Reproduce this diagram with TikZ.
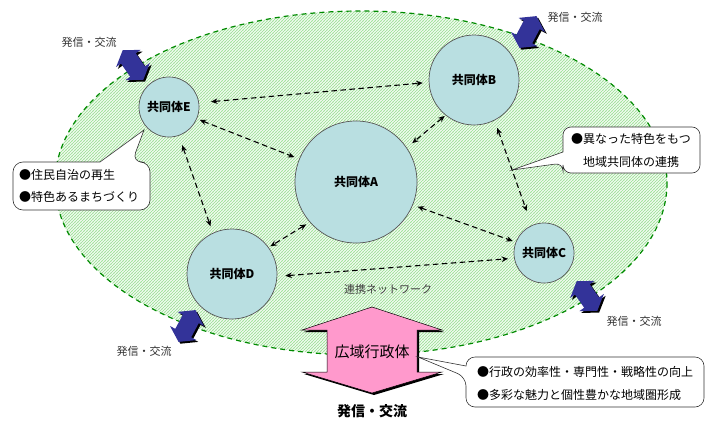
\documentclass[tikz,border=0pt]{standalone}
\usepackage{fontspec}
\setmainfont{Noto Sans CJK JP}
\usetikzlibrary{arrows.meta,patterns.meta}

\definecolor{circfill}{HTML}{B9DFE1}
\definecolor{circline}{HTML}{555555}
\definecolor{hatchgreen}{HTML}{A6E3A0}
\definecolor{ellgreen}{HTML}{008A00}
\definecolor{navyarr}{HTML}{333399}
\definecolor{pinkarr}{HTML}{FF99CC}
\definecolor{labgray}{HTML}{333333}

\tikzdeclarepattern{
  name=hatchlines,
  type=uncolored,
  bottom left={(-0.5pt,-0.5pt)},
  top right={(3.5pt,3.5pt)},
  tile size={(3pt,3pt)},
  code={\draw[line width=0.9pt] (-0.5pt,-0.5pt) -- (3.5pt,3.5pt);}
}

\tikzset{
  dblarr/.pic={
    \fill[black, shift={(1.8,1.8)}, rotate=#1] (-18,0) -- (-8,15) -- (-8,9) -- (8,9) -- (8,15) -- (18,0) -- (8,-15) -- (8,-9) -- (-8,-9) -- (-8,-15) -- cycle;
    \fill[navyarr, rotate=#1] (-18,0) -- (-8,15) -- (-8,9) -- (8,9) -- (8,15) -- (18,0) -- (8,-15) -- (8,-9) -- (-8,-9) -- (-8,-15) -- cycle;
  }
}

\begin{document}
\begin{tikzpicture}[x=1pt,y=-1pt,
  comm/.style={circle, fill=circfill, draw=circline, line width=0.7pt, inner sep=0pt, font=\bfseries\fontsize{12}{14}\selectfont},
  link/.style={dash pattern=on 5.5pt off 3.5pt, line width=1.1pt, {Stealth[length=6.5pt,width=5.5pt]}-{Stealth[length=6.5pt,width=5.5pt]}},
  smalllab/.style={font=\fontsize{11}{13}\selectfont, text=labgray, inner sep=0pt},
  calltext/.style={font=\fontsize{12}{14}\selectfont, inner sep=0pt},
  callbox/.style={fill=white, draw=black!80, line width=0.6pt},
  ellborder/.style={draw=ellgreen, dash pattern=on 5pt off 4pt, line width=1.2pt}
]
\useasboundingbox (0,0) rectangle (706,423);

% region
\fill[white] (361,183) ellipse [x radius=306, y radius=172];
\fill[pattern=hatchlines, pattern color=hatchgreen] (361,183) ellipse [x radius=306, y radius=172];
\draw[ellborder] (361,183) ellipse [x radius=306, y radius=172];

% communities
\node[comm, minimum size=122pt] (A) at (356,182) {共同体A};
\node[comm, minimum size=90pt] (B) at (474,80) {共同体B};
\node[comm, minimum size=60pt] (C) at (544,253) {共同体C};
\node[comm, minimum size=90pt] (D) at (232,274) {共同体D};
\node[comm, minimum size=60pt] (E) at (169,107) {共同体E};

% links
\draw[link, shorten <=12pt, shorten >=6pt] (E.8) -- (B.183);
\draw[link, shorten <=3pt, shorten >=5pt] (E.-23) -- (A.158);
\draw[link, shorten <=10pt, shorten >=7pt] (E.-71) -- (D.115);
\draw[link, shorten <=1pt, shorten >=7pt] (B.231) -- (A.34);
\draw[link, shorten <=8pt, shorten >=15pt] (B.-63) -- (C.114);
\draw[link, shorten <=4pt, shorten >=2pt] (A.221) -- (D.36);
\draw[link, shorten <=5pt, shorten >=3pt] (A.-22) -- (C.159);
\draw[link, shorten <=8pt, shorten >=6pt] (D.-3) -- (C.190);

\node[smalllab, text=black!75] (net) at (388,289) {連携ネットワーク};

% exchange arrows
\pic at (133,65) {dblarr=125};
\pic at (528,32) {dblarr=62};
\pic at (587,296) {dblarr=-55};
\pic at (187,326) {dblarr=-118};

\node[smalllab] (lTL) at (89,42) {発信・交流};
\node[smalllab] (lTR) at (575,17) {発信・交流};
\node[smalllab] (lBR) at (634,321) {発信・交流};
\node[smalllab] (lBL) at (144,351) {発信・交流};

% wide-area administration arrow
\fill[black, shift={(2,2)}] (372,307) -- (442,330) -- (417,330) -- (417,372) -- (442,372) -- (372,393) -- (302,372) -- (327,372) -- (327,330) -- (302,330) -- cycle;
\filldraw[fill=pinkarr, draw=black, line width=0.5pt] (372,307) -- (442,330) -- (417,330) -- (417,372) -- (442,372) -- (372,393) -- (302,372) -- (327,372) -- (327,330) -- (302,330) -- cycle;
\node[font=\fontsize{15}{17}\selectfont, inner sep=0pt] (kouiki) at (372,352) {広域行政体};
\node[font=\bfseries\fontsize{14}{16}\selectfont, inner sep=0pt] (hasshin) at (372,411) {発信・交流};

% callouts
\draw[callbox] (100,162) [rounded corners=10pt] -- (13,162) -- (13,210) -- (150,210) -- (150,162) -- (132,162) [sharp corners] -- (144,130) -- cycle;
\node[calltext, anchor=west] (e1) at (19,175) {●住民自治の再生};
\node[calltext, anchor=west] (e2) at (19,197) {●特色あるまちづくり};

\draw[callbox] (563,152) [rounded corners=8pt] -- (563,127) -- (700,127) -- (700,173) -- (563,173) -- (563,163) [sharp corners] -- (512,170) -- cycle;
\node[calltext] (b1) at (631,139) {●異なった特色をもつ};
\node[calltext] (b2) at (631,162) {地域共同体の連携};

\draw[callbox] (466,366) [rounded corners=9pt] -- (466,357) -- (704,357) -- (704,407) -- (466,407) -- (466,377) [sharp corners] -- (418,357) -- cycle;
\node[calltext, anchor=west] (g1) at (477,372) {●行政の効率性・専門性・戦略性の向上};
\node[calltext, anchor=west] (g2) at (477,395) {●多彩な魅力と個性豊かな地域圏形成};
\end{tikzpicture}
\end{document}
